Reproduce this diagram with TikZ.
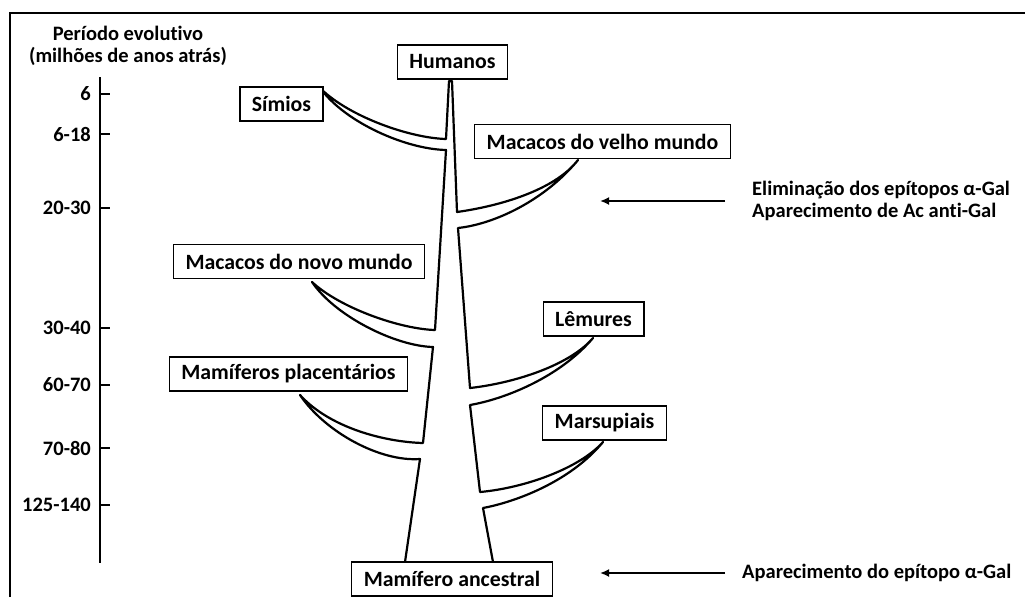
\documentclass[tikz,border=0pt]{standalone}
\usepackage{fontspec}
\setmainfont{Carlito}[Ligatures=NoCommon]
\usetikzlibrary{arrows.meta}
\tikzset{
    caixa/.style={draw, line width=1.2pt, fill=white, inner xsep=12pt, inner ysep=0pt, minimum height=34pt, font=\bfseries\fontsize{21.8}{24}\selectfont},
    rotulo/.style={inner sep=0pt},
    ramo/.style={line width=2.2pt, line join=round, line cap=round},
    seta/.style={-{Latex[length=9pt,width=8pt]}, line width=2.2pt}
}
\begin{document}
\begin{tikzpicture}[x=1pt, y=-1pt, font=\bfseries\fontsize{20.5}{22.5}\selectfont]
    \useasboundingbox (0,0) rectangle (1025,597);
    %Moldura
    \draw[line width=1.5pt] (10,597) -- (10,13) -- (1025,13);
    %Escala de tempo
    \node[rotulo, align=center] (titulo) at (128,46) {Período evolutivo\\(milhões de anos atrás)};
    \draw[line width=1.8pt] (100,77) -- (100,563);
    \foreach \y/\t [count=\i] in {94/6, 134/6-18, 208/20-30, 328/30-40, 385/60-70, 448/70-80, 505/125-140}{
        \draw[line width=1.5pt] (100,\y) -- (110,\y);
        \node[rotulo, anchor=east] (t\i) at (91,\y) {\t};
    }
    %Arvore (tronco e ramos)
    \draw[ramo] (405,562) -- (420,459)
        .. controls (380,462) and (325,432) .. (300,395)
        .. controls (330,428) and (385,442) .. (423,443)
        -- (433,347)
        .. controls (395,346) and (335,316) .. (312,282)
        .. controls (340,308) and (400,329) .. (435,330)
        -- (446,150)
        .. controls (405,149) and (345,122) .. (321,89)
        .. controls (350,117) and (410,138) .. (446,139)
        -- (449,81) -- (452,81) -- (457,212)
        .. controls (500,206) and (555,190) .. (578,160)
        .. controls (545,200) and (495,224) .. (458,228)
        -- (470,388)
        .. controls (515,383) and (570,365) .. (593,338)
        .. controls (560,377) and (505,399) .. (470,405)
        -- (480,492)
        .. controls (525,488) and (580,468) .. (603,442)
        .. controls (570,482) and (515,502) .. (483,508)
        -- (493,562);
    %Especies
    \node[caixa] (humanos) at (452.5,62) {Humanos};
    \node[caixa] (simios) at (281.5,104) {Símios};
    \node[caixa] (velho) at (602.5,141.5) {Macacos do velho mundo};
    \node[caixa] (novo) at (299,261.5) {Macacos do novo mundo};
    \node[caixa] (lemures) at (593.5,319) {Lêmures};
    \node[caixa] (placentarios) at (288.5,374) {Mamíferos placentários};
    \node[caixa] (marsupiais) at (604.5,423) {Marsupiais};
    \node[caixa] (ancestral) at (452,579) {Mamífero ancestral};
    %Eventos alfa-Gal
    \node[rotulo, anchor=west, align=left] (elim) at (752,201) {Eliminação dos epítopos α-Gal\\Aparecimento de Ac anti-Gal};
    \coordinate (alvo1) at (600,201);
    \draw[seta] ([xshift=-27pt]elim.west) -- (alvo1);
    \node[rotulo, anchor=west] (apar) at (742,573) {Aparecimento do epítopo α-Gal};
    \coordinate (alvo2) at (600,573);
    \draw[seta] ([xshift=-17pt]apar.west) -- (alvo2);
\end{tikzpicture}
\end{document}
